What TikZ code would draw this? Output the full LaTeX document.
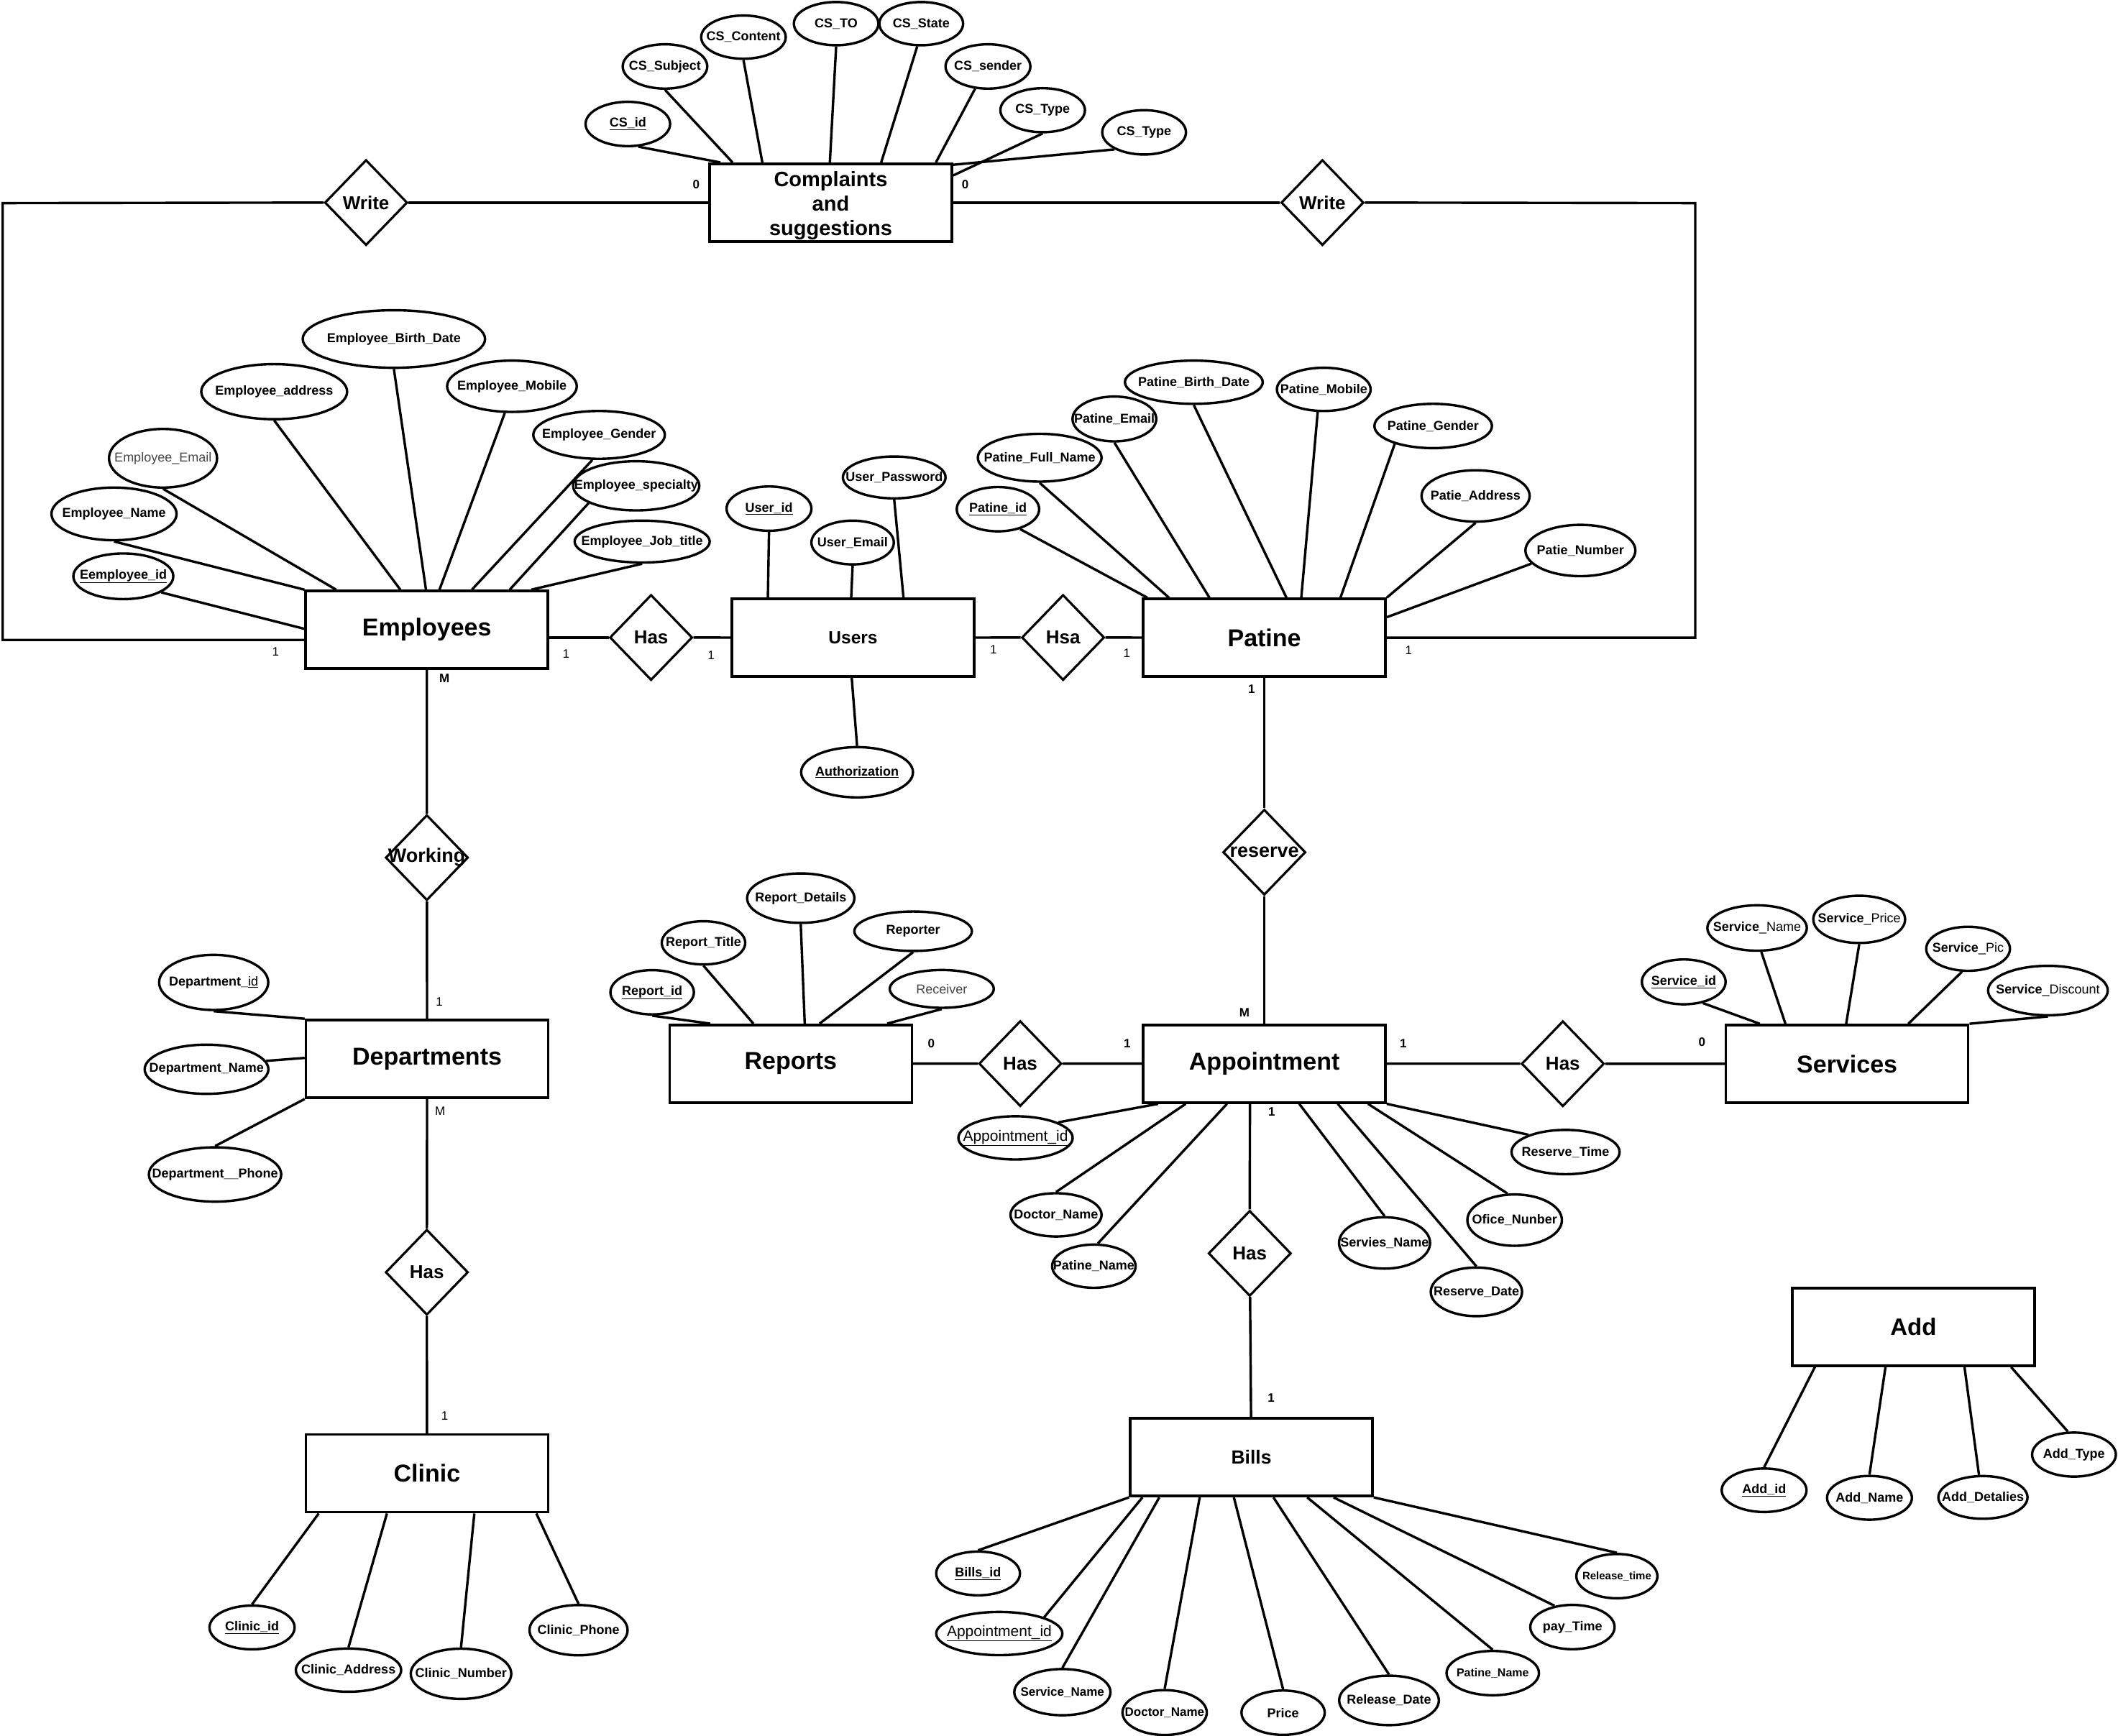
\documentclass[tikz,border=0pt]{standalone}
\usepackage{fontspec}
\setmainfont{Liberation Sans}
\usetikzlibrary{shapes.geometric,calc}
\newcommand\fs[1]{\fontsize{#1}{#1}\selectfont}
\tikzset{
 attr/.style={ellipse, draw, line width=3.4pt, inner sep=0pt, font=\bfseries\fs{18}},
 ent/.style={rectangle, draw, line width=3.6pt, inner sep=0pt, minimum width=337pt, minimum height=108pt, font=\bfseries\fs{34}},
 rel/.style={diamond, draw, line width=3.2pt, inner sep=0pt, minimum width=115pt, minimum height=119pt, font=\bfseries\fs{26}},
 card/.style={inner sep=0pt, font=\fs{17}},
 cardb/.style={inner sep=0pt, font=\bfseries\fs{17}},
 conn/.style={line width=3.4pt},
 regtxt/.style={font=\mdseries\fs{21}},
 graytxt/.style={font=\mdseries\fs{18}, text=black!72},
}
\newcommand\attr[6][]{\node[attr,minimum width=#4*3.7576pt,minimum height=#5*3.7576pt,#1] (#2) at (#3) {\makebox[0pt]{#6}};}
\begin{document}
\begin{tikzpicture}[x=1.8788pt,y=-1.8788pt]
\useasboundingbox (0,0) rectangle (1568,1285);
\fill[white] (0,0) rectangle (1568,1285);

% ---------- entities ----------
\node[ent, align=center, font=\bfseries\fontsize{29}{34}\selectfont] (comp) at (615,150) {\rule{0pt}{29pt}Complaints\\and\\suggestions};
\node[ent] (emp) at (316,466.3) {Employees};
\node[ent, font=\bfseries\fs{24.5}] (users) at (631.5,472.2) {Users};
\node[ent] (pat) at (936,472.2) {Patine};
\node[ent] (dept) at (316.2,784) {Departments};
\node[ent] (clinic) at (316.1,1090.9) {Clinic};
\node[ent] (rep) at (585.4,787.6) {Reports};
\node[ent] (app) at (936,787.6) {Appointment};
\node[ent] (serv) at (1367.4,787.7) {Services};
\node[ent, font=\bfseries\fs{26.5}] (bills) at (926.4,1079) {Bills};
\node[ent, font=\bfseries\fs{33}] (add) at (1416.5,982.5) {Add};

% ---------- relationships ----------
\node[rel] (w1) at (271,150) {\makebox[0pt]{Write}};
\node[rel] (w2) at (979,150) {\makebox[0pt]{Write}};
\node[rel] (has1) at (482,472) {\makebox[0pt]{Has}};
\node[rel] (hsa) at (787,472) {\makebox[0pt]{Hsa}};
\node[rel, font=\bfseries\fs{27}] (work) at (316,635) {\makebox[0pt]{Working}};
\node[rel] (has3) at (316,942) {\makebox[0pt]{Has}};
\node[rel, font=\bfseries\fs{27}] (res) at (936,631) {\makebox[0pt]{reserve}};
\node[rel] (has4) at (755.3,787.5) {\makebox[0pt]{Has}};
\node[rel] (has6) at (1157,787.6) {\makebox[0pt]{Has}};
\node[rel] (has5) at (925.2,928) {\makebox[0pt]{Has}};

% ---------- relationship connectors ----------
\coordinate (lc) at (2,150.4);
\coordinate (rc) at (1255,150.4);
\draw[conn] (w1.west) -- (lc) |- ($(emp.west)+(0,7.5)$);
\draw[conn] (w1) -- (comp);
\draw[conn] (comp) -- (w2);
\draw[conn] (w2.east) -- (rc) |- (pat.east);
\draw[conn] (emp.east |- has1.west) -- (has1.west);
\draw[conn] (has1) -- (users);
\draw[conn] (users) -- (hsa) -- (pat);
\draw[conn] (emp) -- (work) -- (dept) -- (has3) -- (clinic);
\draw[conn] (pat) -- (res) -- (app);
\draw[conn] (rep) -- (has4) -- (app) -- (has6) -- (serv);
\draw[conn] ($(app.south west)+(80,0)$) -- (has5.north);
\draw[conn] (has5) -- (bills);

% ---------- cardinalities ----------
\node[cardb] (k1) at (515.4,136.6) {0};
\node[cardb] (k2) at (714.6,136.6) {0};
\node[card] (k3) at (204,482.5) {1};
\node[card] (k4) at (419,484) {1};
\node[card] (k5) at (526.5,485) {1};
\node[card] (k6) at (735.5,481) {1};
\node[card] (k7) at (834.2,483.5) {1};
\node[card] (k8) at (1042.8,481.7) {1};
\node[cardb] (k9) at (329,502) {M};
\node[card] (k10) at (325.3,742) {1};
\node[card] (k11) at (325.8,822.8) {M};
\node[card] (k12) at (329.3,1048.5) {1};
\node[cardb] (k13) at (926.6,510) {1};
\node[cardb] (k14) at (921.3,750) {M};
\node[cardb] (k15) at (689.5,772.4) {0};
\node[cardb] (k16) at (834.5,772.4) {1};
\node[cardb] (k17) at (1038.8,772.4) {1};
\node[cardb] (k18) at (1260,771.5) {0};
\node[cardb] (k19) at (941.4,823) {1};
\node[cardb] (k20) at (941,1035) {1};

% ---------- Complaints attributes ----------
\attr{cs1}{464.8,91.8}{31.3}{16.4}{\underline{CS\_id}}
\attr{cs2}{492.3,49.2}{31.3}{16.4}{CS\_Subject}
\attr{cs3}{550.4,27.5}{31.3}{16}{CS\_Content}
\attr{cs4}{619,17.5}{31.3}{16}{CS\_TO}
\attr{cs5}{682,17.5}{31}{16}{CS\_State}
\attr{cs6}{731.4,49.2}{31.4}{16.4}{CS\_sender}
\attr{cs7}{771.9,81.6}{31.3}{16.3}{CS\_Type}
\attr{cs8}{847,98}{31}{16.4}{CS\_Type}
\draw[conn] (cs1.-65) -- ($(comp.north west)+(9,0)$);
\draw[conn] (cs2.south) -- ($(comp.north west)+(18,0)$);
\draw[conn] (cs3.south) -- ($(comp.north west)+(40,0)$);
\draw[conn] (cs4.south) -- ($(comp.north west)+(90,0)$);
\draw[conn] (cs5.-100) -- ($(comp.north west)+(128,0)$);
\draw[conn] (cs6.-120) -- ($(comp.north west)+(168.5,0)$);
\draw[conn] (cs7.south) -- ($(comp.north east)+(0,9.6)$);
\draw[conn] (cs8.-150) -- ($(comp.north east)+(0,1.7)$);

% ---------- Employees attributes ----------
\attr{e1}{91.3,426.7}{37}{16.9}{\underline{Eemployee\_id}}
\attr{e2}{84.4,380.5}{46.3}{19.5}{Employee\_Name}
\attr[graytxt]{e3}{120.7,339.3}{40}{21.7}{Employee\_Email}
\attr{e4}{203,290}{54}{20.4}{Employee\_address}
\attr{e5}{291.6,251}{67.5}{21.3}{Employee\_Birth\_Date}
\attr{e6}{379,286}{48}{19}{Employee\_Mobile}
\attr{e7}{443.5,322}{48.7}{17.7}{Employee\_Gender}
\attr{e8}{471,359.7}{46.7}{18.2}{Employee\_specialty}
\attr{e9}{475.4,401}{50}{15.5}{Employee\_Job\_title}
\draw[conn] (e1.-23) -- ($(emp.north west)+(0,29)$);
\draw[conn] (e2.south) -- (emp.north west);
\draw[conn] (e3.south) -- ($(emp.north west)+(23.5,0)$);
\draw[conn] (e4.south) -- ($(emp.north west)+(71,0)$);
\draw[conn] (e5.south) -- ($(emp.north west)+(90,0)$);
\draw[conn] (e6.-105) -- ($(emp.north west)+(100,0)$);
\draw[conn] (e7.-105) -- ($(emp.north west)+(124,0)$);
\draw[conn] (e8.-160) -- ($(emp.north west)+(152,0)$);
\draw[conn] (e9.south) -- ($(emp.north west)+(168,0)$);

% ---------- Users attributes ----------
\attr{u1}{569.3,376.6}{31.4}{16.4}{\underline{User\_id}}
\attr{u2}{631.2,401.7}{30.5}{16.2}{User\_Email}
\attr{u3}{662,353.5}{38}{15.5}{User\_Password}
\attr{u4}{634.5,571.8}{41.4}{18.6}{\underline{Authorization}}
\draw[conn] (u1.south) -- ($(users.north west)+(27.6,0)$);
\draw[conn] (u2.south) -- ($(users.north west)+(89.3,0)$);
\draw[conn] (u3.south) -- ($(users.north west)+(128,0)$);
\draw[conn] (u4.north) -- ($(users.south west)+(89.7,0)$);

% ---------- Patine attributes ----------
\attr{p1}{738.8,377}{30.5}{16.4}{\underline{Patine\_id}}
\attr{p2}{769.7,338.9}{45.8}{17.7}{Patine\_Full\_Name}
\attr{p3}{825,310.2}{31}{16.6}{Patine\_Email}
\attr{p4}{883.8,283}{51}{16}{Patine\_Birth\_Date}
\attr{p5}{980,288.3}{34.7}{16}{Patine\_Mobile}
\attr{p6}{1061,315.4}{43.5}{16.4}{Patine\_Gender}
\attr{p7}{1092.4,367.2}{40}{19}{Patie\_Address}
\attr{p8}{1170,407.6}{40.7}{19}{Patie\_Number}
\draw[conn] (p1.-42) -- ($(pat.north west)+(4,0)$);
\draw[conn] (p2.south) -- ($(pat.north west)+(20,0)$);
\draw[conn] (p3.south) -- ($(pat.north west)+(50,0)$);
\draw[conn] (p4.south) -- ($(pat.north west)+(107,0)$);
\draw[conn] (p5.-105) -- ($(pat.north west)+(118,0)$);
\draw[conn] (p6.-155) -- ($(pat.north west)+(147,0)$);
\draw[conn] (p7.south) -- (pat.north east);
\draw[conn] (p8.-165) -- ($(pat.north east)+(0,14.5)$);

% ---------- Departments attributes ----------
\attr{d1}{158.2,727.4}{40.4}{20.4}{Department\_\underline{\mdseries id}}
\attr{d2}{152.9,791.7}{45.8}{18.2}{Department\_Name}
\attr{d3}{159.2,869.6}{49}{20.1}{Department\_\_Phone}
\draw[conn] (d1.south) -- (dept.north west);
\draw[conn] (d2.8) -- ($(dept.north west)+(0,29)$);
\draw[conn] (d3.north) -- (dept.south west);

% ---------- Clinic attributes ----------
\attr{c1}{186.6,1205}{31.5}{16.2}{\underline{Clinic\_id}}
\attr{c2}{258,1236.6}{39}{16}{Clinic\_Address}
\attr{c3}{341.3,1239.3}{37.2}{18.6}{Clinic\_Number}
\attr{c4}{428.3,1207}{36.3}{18.6}{Clinic\_Phone}
\draw[conn] (c1.north) -- ($(clinic.south west)+(10.5,0)$);
\draw[conn] (c2.north) -- ($(clinic.south west)+(61,0)$);
\draw[conn] (c3.north) -- ($(clinic.south west)+(125.7,0)$);
\draw[conn] (c4.north) -- ($(clinic.south west)+(171.6,0)$);

% ---------- Reports attributes ----------
\attr{r1}{482.8,734.7}{30.9}{16.4}{\underline{Report\_id}}
\attr{r2}{520.8,698.1}{30.9}{16}{Report\_Title}
\attr{r3}{592.8,665}{39.7}{18.3}{Report\_Details}
\attr{r4}{676,689.5}{43.5}{14.6}{Reporter}
\attr[graytxt]{r5}{697.2,732.2}{38.5}{14}{Receiver}
\draw[conn] (r1.south) -- ($(rep.north west)+(31,0)$);
\draw[conn] (r2.south) -- ($(rep.north west)+(63,0)$);
\draw[conn] (r3.south) -- ($(rep.north west)+(101,0)$);
\draw[conn] (r4.south) -- ($(rep.north west)+(112,0)$);
\draw[conn] (r5.south) -- ($(rep.north west)+(162,0)$);

% ---------- Services attributes ----------
\attr{s1}{1246.5,727}{31}{16.6}{\underline{Service\_id}}
\attr{s2}{1300.8,687.1}{36.8}{16.8}{Service{\mdseries\_Name}}
\attr{s3}{1376.4,680.7}{34}{17.5}{Service{\mdseries\_Price}}
\attr{s4}{1457,702.5}{31}{16.3}{Service{\mdseries\_Pic}}
\attr{s5}{1516.1,733.4}{44.3}{18.3}{Service{\mdseries\_Discount}}
\draw[conn] (s1.-48) -- ($(serv.north west)+(26,0)$);
\draw[conn] (s2.-80) -- ($(serv.north west)+(45,0)$);
\draw[conn] (s3.south) -- ($(serv.north west)+(90,0)$);
\draw[conn] (s4.-105) -- ($(serv.north west)+(136,0)$);
\draw[conn] (s5.south) -- (serv.north east);

% ---------- Appointment attributes ----------
\attr[regtxt]{a1}{751.8,842.5}{42.3}{16}{\underline{Appointment\_id}}
\attr{a2}{781.8,899.5}{33.7}{16}{Doctor\_Name}
\attr{a3}{809.8,937.5}{30.9}{16}{Patine\_Name}
\attr{a4}{1025,920.3}{33.7}{19}{Servies\_Name}
\attr{a5}{1093,956.5}{33.8}{18}{Reserve\_Date}
\attr{a6}{1121.3,903.4}{35}{19}{Ofice\_Nunber}
\attr{a7}{1159,853}{40}{16.4}{Reserve\_Time}
\draw[conn] (a1.20) -- ($(app.south west)+(12,0)$);
\draw[conn] (a2.north) -- ($(app.south west)+(32.4,0)$);
\draw[conn] (a3.80) -- ($(app.south west)+(63,0)$);
\draw[conn] (a4.north) -- ($(app.south west)+(116.5,0)$);
\draw[conn] (a5.north) -- ($(app.south west)+(145,0)$);
\draw[conn] (a6.105) -- ($(app.south west)+(167.4,0)$);
\draw[conn] (a7.155) -- (app.south east);

% ---------- Bills attributes ----------
\attr{b1}{724.1,1165}{31}{16.2}{\underline{Bills\_id}}
\attr[regtxt]{b2}{739.8,1209.5}{46.7}{16}{\underline{Appointment\_id}}
\attr[font=\bfseries\fs{17}]{b3}{786.5,1252.9}{35.6}{17.1}{Service\_Name}
\attr[font=\bfseries\fs{17}]{b4}{862.2,1268}{31.2}{16.6}{Doctor\_Name}
\attr{b5}{949.9,1268.1}{30.8}{16.4}{Price}
\attr{b6}{1028.3,1259}{36.9}{18.3}{Release\_Date}
\attr[font=\bfseries\fs{16}]{b7}{1105.1,1238.8}{34.2}{16.4}{Patine\_Name}
\attr{b8}{1164.1,1204.7}{31.2}{16.4}{pay\_Time}
\attr[font=\bfseries\fs{15}]{b9}{1197,1167}{30}{16.4}{Release\_time}
\draw[conn] (b1.north) -- (bills.south west);
\draw[conn] (b2.20) -- ($(bills.south west)+(10,0)$);
\draw[conn] (b3.north) -- ($(bills.south west)+(22.5,0)$);
\draw[conn] (b4.north) -- ($(bills.south west)+(52.4,0)$);
\draw[conn] (b5.north) -- ($(bills.south west)+(77.7,0)$);
\draw[conn] (b6.north) -- ($(bills.south west)+(107,0)$);
\draw[conn] (b7.north) -- ($(bills.south west)+(132,0)$);
\draw[conn] (b8.130) -- ($(bills.south west)+(151.5,0)$);
\draw[conn] (b9.north) -- (bills.south east);

% ---------- Add attributes ----------
\attr{x1}{1306,1103.4}{31.4}{16.1}{\underline{Add\_id}}
\attr{x2}{1384,1109}{31.4}{16.2}{Add\_Name}
\attr{x3}{1468,1108.7}{33}{15.8}{Add\_Detalies}
\attr{x4}{1535.4,1077}{31}{16.3}{Add\_Type}
\draw[conn] (x1.north) -- ($(add.south west)+(17.7,0)$);
\draw[conn] (x2.north) -- ($(add.south west)+(70,0)$);
\draw[conn] (x3.100) -- ($(add.south west)+(128.5,0)$);
\draw[conn] (x4.105) -- ($(add.south west)+(163,0)$);
\end{tikzpicture}
\end{document}
